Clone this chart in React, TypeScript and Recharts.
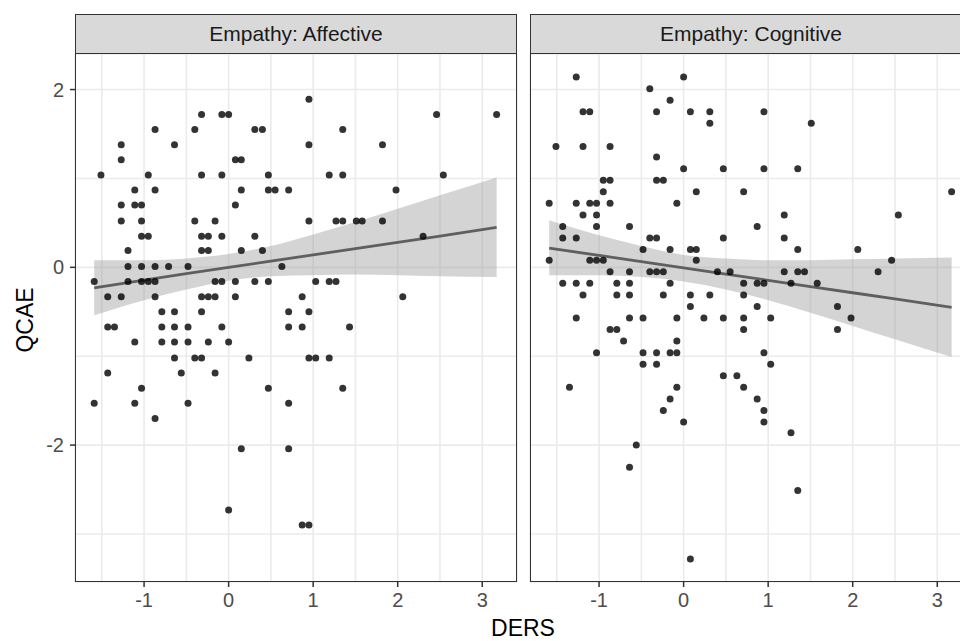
import React from 'react'
import { ComposedChart, Scatter, Area, Line, XAxis, YAxis, CartesianGrid } from 'recharts'

// DERS (x) vs QCAE (y), one facet per empathy type
const affectivePoints: [number, number][] = [
  [0.95, 1.89],
  [-0.32, 1.72], [-0.08, 1.72], [0.0, 1.72], [2.46, 1.72], [3.17, 1.72],
  [-0.87, 1.55], [-0.4, 1.55], [0.31, 1.55], [0.4, 1.55], [1.35, 1.55],
  [-1.27, 1.38], [-0.64, 1.38], [0.95, 1.38], [1.82, 1.38],
  [-1.27, 1.21], [0.08, 1.21], [0.15, 1.21],
  [-1.51, 1.04], [-0.95, 1.04], [-0.32, 1.04], [-0.08, 1.04], [0.47, 1.04], [1.19, 1.04], [1.35, 1.04], [2.54, 1.04],
  [-1.11, 0.87], [-0.87, 0.87], [0.15, 0.87], [0.47, 0.87], [0.55, 0.87], [0.71, 0.87], [1.98, 0.87],
  [-1.27, 0.7], [-1.11, 0.7], [-1.03, 0.7], [0.08, 0.7],
  [-1.27, 0.52], [-1.03, 0.52], [-0.4, 0.52], [-0.16, 0.52], [0.95, 0.52], [1.27, 0.52], [1.35, 0.52], [1.51, 0.52], [1.58, 0.52], [1.82, 0.52],
  [-1.03, 0.35], [-0.95, 0.35], [-0.32, 0.35], [-0.24, 0.35], [-0.08, 0.35], [0.31, 0.35], [2.3, 0.35],
  [-1.19, 0.19], [-0.32, 0.19], [-0.24, 0.19], [0.15, 0.19], [0.4, 0.19],
  [-1.19, 0.01], [-1.03, 0.01], [-0.87, 0.01], [-0.71, 0.01], [-0.48, 0.01], [0.63, 0.01],
  [-1.59, -0.16], [-1.19, -0.16], [-1.03, -0.16], [-0.95, -0.16], [-0.87, -0.16], [-0.16, -0.16], [-0.08, -0.16], [0.08, -0.16], [0.31, -0.16], [0.47, -0.16], [1.03, -0.16], [1.19, -0.16], [1.27, -0.16],
  [-1.43, -0.33], [-1.27, -0.33], [-0.87, -0.33], [-0.32, -0.33], [-0.24, -0.33], [-0.16, -0.33], [0.08, -0.33], [0.87, -0.33], [2.06, -0.33],
  [-0.79, -0.5], [-0.64, -0.5], [-0.32, -0.5], [0.71, -0.5], [0.95, -0.5],
  [-1.43, -0.67], [-1.35, -0.67], [-0.79, -0.67], [-0.64, -0.67], [-0.48, -0.67], [-0.08, -0.67], [0.71, -0.67], [0.87, -0.67], [1.43, -0.67],
  [-1.11, -0.84], [-0.79, -0.84], [-0.64, -0.84], [-0.48, -0.84], [-0.24, -0.84], [0.0, -0.84],
  [-0.64, -1.02], [-0.4, -1.02], [-0.32, -1.02], [0.24, -1.02], [0.95, -1.02], [1.03, -1.02], [1.19, -1.02],
  [-1.43, -1.19], [-0.56, -1.19], [-0.16, -1.19],
  [-1.03, -1.36], [0.47, -1.36], [1.35, -1.36],
  [-1.59, -1.53], [-1.11, -1.53], [-0.48, -1.53], [0.71, -1.53],
  [-0.87, -1.7],
  [0.15, -2.04], [0.71, -2.04],
  [0.0, -2.73],
  [0.87, -2.9], [0.95, -2.9],
]

const cognitivePoints: [number, number][] = [
  [-1.27, 2.14], [0.0, 2.14],
  [-0.4, 2.01],
  [-0.16, 1.88],
  [-1.19, 1.75], [-1.11, 1.75], [-0.32, 1.75], [0.08, 1.75], [0.31, 1.75], [0.95, 1.75],
  [0.31, 1.62], [1.51, 1.62],
  [-1.51, 1.36], [-1.19, 1.36], [-0.87, 1.36],
  [-0.32, 1.24],
  [0.0, 1.11], [0.47, 1.11], [0.95, 1.11], [1.35, 1.11],
  [-0.95, 0.98], [-0.87, 0.98], [-0.32, 0.98], [-0.24, 0.98],
  [-0.95, 0.85], [0.15, 0.85], [0.71, 0.85], [3.17, 0.85],
  [-1.59, 0.72], [-1.27, 0.72], [-1.11, 0.72], [-1.03, 0.72], [-0.87, 0.72], [-0.08, 0.72],
  [-1.19, 0.59], [-1.03, 0.59], [1.19, 0.59], [2.54, 0.59],
  [-1.43, 0.46], [-1.03, 0.46], [-0.64, 0.46], [0.87, 0.46],
  [-1.43, 0.33], [-1.27, 0.33], [-0.4, 0.33], [-0.32, 0.33], [0.47, 0.33], [1.19, 0.33],
  [-0.48, 0.2], [-0.16, 0.2], [0.08, 0.2], [0.15, 0.2], [1.35, 0.2], [2.06, 0.2],
  [-1.59, 0.08], [-1.11, 0.08], [-1.03, 0.08], [-0.95, 0.08], [0.15, 0.08], [2.46, 0.08],
  [-0.87, -0.05], [-0.64, -0.05], [-0.4, -0.05], [-0.32, -0.05], [-0.24, -0.05], [0.4, -0.05], [0.55, -0.05], [1.19, -0.05], [1.35, -0.05], [1.43, -0.05], [2.3, -0.05],
  [-1.43, -0.18], [-1.27, -0.18], [-1.11, -0.18], [-0.79, -0.18], [-0.64, -0.18], [-0.16, -0.18], [0.71, -0.18], [0.87, -0.18], [0.95, -0.18], [1.27, -0.18], [1.58, -0.18],
  [-1.19, -0.31], [-0.79, -0.31], [-0.64, -0.31], [-0.24, -0.31], [0.08, -0.31], [0.31, -0.31], [0.71, -0.31],
  [0.08, -0.44], [0.87, -0.44], [1.82, -0.44],
  [-1.27, -0.57], [-0.64, -0.57], [-0.48, -0.57], [-0.08, -0.57], [0.24, -0.57], [0.47, -0.57], [0.71, -0.57], [1.03, -0.57], [1.98, -0.57],
  [-0.87, -0.7], [-0.79, -0.7], [0.71, -0.7], [1.82, -0.7],
  [-0.71, -0.83], [-0.08, -0.83],
  [-1.03, -0.96], [-0.48, -0.96], [-0.32, -0.96], [-0.16, -0.96], [-0.08, -0.96], [0.95, -0.96],
  [-0.48, -1.09], [-0.32, -1.09], [1.03, -1.09],
  [0.47, -1.22], [0.63, -1.22],
  [-1.35, -1.35], [-0.08, -1.35], [0.71, -1.35],
  [-0.16, -1.48], [0.87, -1.48],
  [-0.24, -1.61], [0.95, -1.61],
  [0.0, -1.74], [0.95, -1.74],
  [1.27, -1.86],
  [-0.56, -2.0],
  [-0.64, -2.25],
  [1.35, -2.51],
  [0.08, -3.28],
]

// lm fit and 95% band, read at a few x positions
const bandX = [-1.59, -1, -0.5, 0, 0.5, 1, 1.5, 2, 2.5, 3.17]
const affectiveFit = [-0.23, -0.145, -0.07, 0.0, 0.07, 0.14, 0.21, 0.28, 0.35, 0.45]
const affectiveLow = [-0.54, -0.37, -0.25, -0.15, -0.1, -0.09, -0.08, -0.09, -0.1, -0.11]
const affectiveHigh = [0.08, 0.08, 0.1, 0.15, 0.24, 0.37, 0.51, 0.66, 0.81, 1.01]
const cognitiveFit = [0.215, 0.134, 0.064, -0.006, -0.076, -0.146, -0.216, -0.286, -0.356, -0.45]
const cognitiveLow = [-0.09, -0.09, -0.11, -0.16, -0.25, -0.37, -0.51, -0.66, -0.81, -1.01]
const cognitiveHigh = [0.53, 0.36, 0.24, 0.14, 0.1, 0.08, 0.08, 0.09, 0.1, 0.11]

const xLabels = [-1, 0, 1, 2, 3]
const xGrid = [-1.5, -1, -0.5, 0, 0.5, 1, 1.5, 2, 2.5, 3]
const yLabels = [-2, 0, 2]
const yGrid = [-3, -2, -1, 0, 1, 2]
const xDomain: [number, number] = [-1.817, 3.411]
const yDomain: [number, number] = [-3.54, 2.4]

const FONT = '"Liberation Sans", Arial, Helvetica, sans-serif'
const TICK = 5
const GAP = 6

// grid follows every tick; only the labelled ones get a mark and text
const XTick = (p: any) => {
  if (!xLabels.includes(p.payload.value)) return <g />
  return (
    <g>
      <line x1={p.x} x2={p.x} y1={p.y - GAP - TICK} y2={p.y - GAP} stroke="#333" strokeWidth={1.5} />
      <text x={p.x} y={p.y} dy="0.71em" textAnchor="middle" fontSize={20} fill="#4d4d4d" fontFamily={FONT}>
        {p.payload.value}
      </text>
    </g>
  )
}

const YTick = (p: any) => {
  if (!yLabels.includes(p.payload.value)) return <g />
  return (
    <g>
      <line x1={p.x + GAP} x2={p.x + GAP + TICK} y1={p.y} y2={p.y} stroke="#333" strokeWidth={1.5} />
      <text x={p.x} y={p.y} dy="0.355em" textAnchor="end" fontSize={20} fill="#4d4d4d" fontFamily={FONT}>
        {p.payload.value}
      </text>
    </g>
  )
}

const dot = (p: any) => <circle cx={p.cx} cy={p.cy} r={3.5} fill="#000" fillOpacity={0.8} />

type PanelProps = {
  points: [number, number][]
  fit: number[]
  low: number[]
  high: number[]
  showY: boolean
  width: number
  margin: { top: number; right: number; bottom: number; left: number }
}

const Panel: React.FC<PanelProps> = ({ points, fit, low, high, showY, width, margin }) => {
  const band = bandX.map((x, i) => ({ x, fit: fit[i], range: [low[i], high[i]] }))
  const pts = points.map(([x, y]) => ({ x, y }))
  return (
    <div style={{ position: 'absolute', left: 0, top: 0 }}>
      <ComposedChart width={width} height={641} data={band} margin={margin}>
        <CartesianGrid stroke="#ebebeb" strokeWidth={1.6} />
        <XAxis
          dataKey="x"
          type="number"
          domain={xDomain}
          ticks={xGrid}
          interval={0}
          allowDataOverflow
          axisLine={false}
          tickLine={false}
          tickSize={TICK}
          tickMargin={GAP}
          height={30}
          tick={XTick}
        />
        <YAxis
          type="number"
          domain={yDomain}
          ticks={yGrid}
          interval={0}
          allowDataOverflow
          width={75}
          hide={!showY}
          axisLine={false}
          tickLine={false}
          tickSize={TICK}
          tickMargin={GAP}
          tick={YTick}
        />
        <Scatter data={pts} dataKey="y" shape={dot} isAnimationActive={false} />
        <Area dataKey="range" type="monotone" stroke="none" fill="#999" fillOpacity={0.42} isAnimationActive={false} />
        <Line dataKey="fit" type="linear" stroke="#5f5f5f" strokeWidth={2.8} dot={false} isAnimationActive={false} />
      </ComposedChart>
    </div>
  )
}

const strip = (left: number, text: string) => (
  <div
    style={{
      position: 'absolute', left, top: 14, width: 442, height: 40, boxSizing: 'border-box',
      border: '1.5px solid #333', background: '#d9d9d9', display: 'flex', alignItems: 'center',
      justifyContent: 'center', fontSize: 21, color: '#1a1a1a', fontFamily: FONT,
    }}
  >
    {text}
  </div>
)

const frame = (left: number) => (
  <div
    style={{
      position: 'absolute', left, top: 53, width: 442, height: 529, boxSizing: 'border-box',
      border: '1.5px solid #333', pointerEvents: 'none',
    }}
  />
)

export default function App() {
  return (
    <div style={{ position: 'fixed', left: 0, top: 0, width: 960, height: 641, overflow: 'hidden', background: '#fff' }}>
      <Panel
        points={affectivePoints}
        fit={affectiveFit}
        low={affectiveLow}
        high={affectiveHigh}
        showY
        width={960}
        margin={{ top: 54, right: 443, bottom: 29, left: 0 }}
      />
      <Panel
        points={cognitivePoints}
        fit={cognitiveFit}
        low={cognitiveLow}
        high={cognitiveHigh}
        showY={false}
        width={980}
        margin={{ top: 54, right: 8, bottom: 29, left: 530 }}
      />
      {strip(75, 'Empathy: Affective')}
      {strip(530, 'Empathy: Cognitive')}
      {frame(75)}
      {frame(530)}
      <div style={{ position: 'absolute', left: 523, top: 617, transform: 'translateX(-50%)', fontSize: 23, lineHeight: 1, fontFamily: FONT, color: '#000' }}>
        DERS
      </div>
      <div style={{ position: 'absolute', left: 25, top: 320, transform: 'translate(-50%, -50%) rotate(-90deg)', fontSize: 23, lineHeight: 1, fontFamily: FONT, color: '#000', whiteSpace: 'nowrap' }}>
        QCAE
      </div>
    </div>
  )
}
